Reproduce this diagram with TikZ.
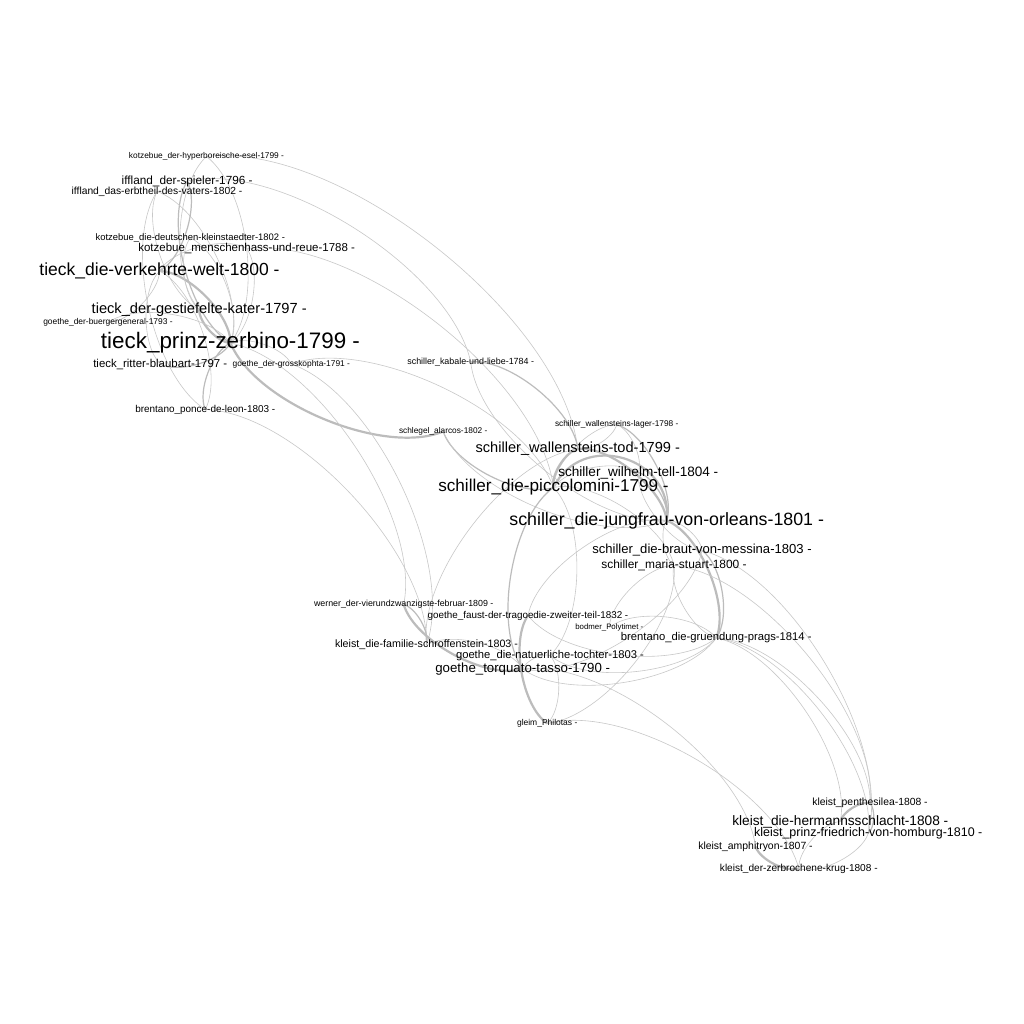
\documentclass[tikz,border=0pt]{standalone}
\usepackage{fontspec}
\setmainfont{Liberation Sans}
\usepackage{graphicx}
\usetikzlibrary{backgrounds}
\definecolor{edgegray}{RGB}{200,200,200}
\definecolor{edgedark}{RGB}{188,188,188}
\tikzset{
  lbl/.style={inner sep=0pt, outer sep=0pt, anchor=center, text=black, yshift=-1.5pt},
  e/.style={draw=edgegray, line width=0.6pt},
  em/.style={draw=edgedark, line width=1.2pt},
  ew/.style={draw=edgedark, line width=2.2pt},
  cl/.style={bend left=45, looseness=0.72},
  cr/.style={bend right=45, looseness=0.72}
}
\newcommand{\mklab}[5]{\node[lbl] (#1) at (#2,#3) {\resizebox{#4pt}{!}{#5}};}
\begin{document}
\begin{tikzpicture}[x=1pt,y=-1pt]
\useasboundingbox (0,0) rectangle (1024,1024);
% labels (nodes)
\mklab{hyper}{206.5}{155}{155}{kotzebue\_der-hyperboreische-esel-1799 -}
\mklab{spieler}{187.2}{179.5}{131}{iffland\_der-spieler-1796 -}
\mklab{erbtheil}{157}{190}{170.6}{iffland\_das-erbtheil-des-vaters-1802 -}
\mklab{kleinst}{190.3}{236.5}{189.3}{kotzebue\_die-deutschen-kleinstaedter-1802 -}
\mklab{menschen}{246.7}{247}{216.7}{kotzebue\_menschenhass-und-reue-1788 -}
\mklab{verkehrte}{159.5}{269.5}{240}{tieck\_die-verkehrte-welt-1800 -}
\mklab{gestiefelte}{199.2}{308}{215}{tieck\_der-gestiefelte-kater-1797 -}
\mklab{buerger}{108}{321}{129.4}{goethe\_der-buergergeneral-1793 -}
\mklab{zerbino}{230.5}{341.5}{259}{tieck\_prinz-zerbino-1799 -}
\mklab{blaubart}{160.3}{362.5}{134}{tieck\_ritter-blaubart-1797 -}
\mklab{grosskophta}{291.3}{362.5}{117.3}{goethe\_der-grosskophta-1791 -}
\mklab{ponce}{205.3}{408}{140}{brentano\_ponce-de-leon-1803 -}
\mklab{kabale}{470.7}{360.5}{126.7}{schiller\_kabale-und-liebe-1784 -}
\mklab{alarcos}{443.2}{430}{88.3}{schlegel\_alarcos-1802 -}
\mklab{lager}{616.7}{423}{123.3}{schiller\_wallensteins-lager-1798 -}
\mklab{tod}{577.8}{447.5}{204.3}{schiller\_wallensteins-tod-1799 -}
\mklab{tell}{638.3}{471}{160}{schiller\_wilhelm-tell-1804 -}
\mklab{picco}{553.5}{486}{230.4}{schiller\_die-piccolomini-1799 -}
\mklab{jungfrau}{666.7}{519}{314.7}{schiller\_die-jungfrau-von-orleans-1801 -}
\mklab{braut}{702}{549}{219.4}{schiller\_die-braut-von-messina-1803 -}
\mklab{maria}{674}{564}{145.4}{schiller\_maria-stuart-1800 -}
\mklab{werner}{403.7}{603}{179.3}{werner\_der-vierundzwanzigste-februar-1809 -}
\mklab{faust}{528}{614}{200.6}{goethe\_faust-der-tragoedie-zweiter-teil-1832 -}
\mklab{bodmer}{609.3}{626}{68}{bodmer\_Polytimet -}
\mklab{gruendung}{716.3}{636.5}{190.7}{brentano\_die-gruendung-prags-1814 -}
\mklab{familie}{426.5}{643.5}{183}{kleist\_die-familie-schroffenstein-1803 -}
\mklab{natuerliche}{550}{654}{188}{goethe\_die-natuerliche-tochter-1803 -}
\mklab{tasso}{522.7}{667.5}{174.7}{goethe\_torquato-tasso-1790 -}
\mklab{gleim}{547.2}{722}{60.3}{gleim\_Philotas -}
\mklab{penthesilea}{870}{801.5}{115.4}{kleist\_penthesilea-1808 -}
\mklab{hermann}{840.3}{820}{216}{kleist\_die-hermannsschlacht-1808 -}
\mklab{homburg}{868.2}{832}{228.3}{kleist\_prinz-friedrich-von-homburg-1810 -}
\mklab{amphitryon}{755.5}{845}{114.4}{kleist\_amphitryon-1807 -}
\mklab{krug}{798.8}{867}{157.7}{kleist\_der-zerbrochene-krug-1808 -}
\begin{pgfonlayer}{background}
\fill[white] (0,0) rectangle (1024,1024);
% tieck / kotzebue / iffland cluster
\draw[ew] (verkehrte.center) to[cl] (zerbino.center);
\draw[ew] (gestiefelte.center) to[cr] (zerbino.center);
\draw[em] (spieler.center) to[cr] (zerbino.center);
\draw[e] (erbtheil.center) to[cl] (zerbino.center);
\draw[e] (hyper.center) to[cl] (zerbino.center);
\draw[e] (hyper.center) to[cr] (gestiefelte.center);
\draw[e] (kleinst.center) to[cl] (zerbino.center);
\draw[e] (menschen.center) to[cl] (zerbino.center);
\draw[e] (menschen.center) to[cr] (verkehrte.center);
\draw[e] (buerger.center) to[cl] (zerbino.center);
\draw[em] (blaubart.center) to[cr] (zerbino.center);
\draw[e] (grosskophta.center) to[cr] (zerbino.center);
\draw[em] (ponce.center) to[cl] (zerbino.center);
\draw[e] (ponce.center) to[cr] (verkehrte.center);
\draw[e] (blaubart.center) to[cl] (verkehrte.center);
\draw[em] (spieler.center) to[cl] (verkehrte.center);
\draw[e] (erbtheil.center) to[cr] (gestiefelte.center);
\draw[e] (kleinst.center) to[cr] (gestiefelte.center);
\draw[e] (buerger.center) to[cr] (verkehrte.center);
\draw[e] (erbtheil.center) to[cr] (ponce.center);
% cross links
\draw[ew] (zerbino.center) to[cr] (alarcos.center);
\draw[e] (spieler.center) to[cl] (kabale.center);
\draw[e] (menschen.center) to[cl] (picco.center);
\draw[e] (hyper.center) to[cl] (tod.center);
\draw[e] (grosskophta.center) to[cl] (picco.center);
\draw[e] (ponce.center) to[cl] (familie.center);
\draw[e] (zerbino.center) to[cl] (werner.center);
\draw[e] (grosskophta.center) to[cl] (familie.center);
% schiller
\draw[em] (kabale.center) to[cl] (tod.center);
\draw[e] (kabale.center) to[cr] (jungfrau.center);
\draw[em] (alarcos.center) to[cr] (picco.center);
\draw[e] (alarcos.center) to[cr] (jungfrau.center);
\draw[e] (lager.center) to[cl] (tod.center);
\draw[e] (lager.center) to[cr] (picco.center);
\draw[e] (lager.center) to[cl] (tell.center);
\draw[em] (lager.center) to[cl] (jungfrau.center);
\draw[ew] (tod.center) to[cl] (jungfrau.center);
\draw[ew] (tod.center) to[cr] (picco.center);
\draw[ew] (picco.center) to[bend left=80, looseness=1.4] (jungfrau.center);
\draw[em] (tell.center) to[cl] (jungfrau.center);
\draw[e] (tell.center) to[cr] (picco.center);
\draw[e] (braut.center) to[cr] (jungfrau.center);
\draw[e] (maria.center) to[cl] (jungfrau.center);
\draw[e] (maria.center) to[cr] (picco.center);
\draw[e] (braut.center) to[cl] (tell.center);
\draw[ew] (jungfrau.center) to[cl] (gruendung.center);
\draw[em] (braut.center) to[cl] (gruendung.center);
\draw[e] (maria.center) to[cr] (gruendung.center);
% schiller - goethe
\draw[em] (picco.center) to[cr] (tasso.center);
\draw[e] (picco.center) to[cl] (natuerliche.center);
\draw[e] (jungfrau.center) to[cr] (faust.center);
\draw[e] (tod.center) to[cr] (familie.center);
\draw[e] (maria.center) to[cl] (gleim.center);
\draw[e] (maria.center) to[cr] (bodmer.center);
\draw[e] (braut.center) to[cl] (tasso.center);
% goethe cluster
\draw[ew] (werner.center) to[cr] (tasso.center);
\draw[e] (familie.center) to[cl] (tasso.center);
\draw[ew] (faust.center) to[cr] (gleim.center);
\draw[e] (natuerliche.center) to[cr] (tasso.center);
\draw[e] (natuerliche.center) to[cl] (gleim.center);
\draw[e] (tasso.center) to[cr] (gruendung.center);
\draw[e] (natuerliche.center) to[cr] (gruendung.center);
\draw[e] (faust.center) to[cr] (gruendung.center);
\draw[e] (bodmer.center) to[cl] (gruendung.center);
\draw[em] (werner.center) to[cl] (familie.center);
% kleist
\draw[e] (gruendung.center) to[cl] (penthesilea.center);
\draw[e] (gruendung.center) to[cl] (hermann.center);
\draw[e] (gruendung.center) to[cl] (homburg.center);
\draw[ew] (hermann.center) to[cl] (penthesilea.center);
\draw[em] (penthesilea.center) to[cl] (homburg.center);
\draw[ew] (amphitryon.center) to[cr] (krug.center);
\draw[e] (hermann.center) to[cr] (krug.center);
\draw[e] (homburg.center) to[cl] (krug.center);
\draw[e] (gleim.center) to[cl] (krug.center);
\draw[e] (tasso.center) to[cl] (amphitryon.center);
\draw[e] (maria.center) to[cl] (penthesilea.center);
\draw[e] (braut.center) to[cl] (homburg.center);
\end{pgfonlayer}
\end{tikzpicture}
\end{document}
